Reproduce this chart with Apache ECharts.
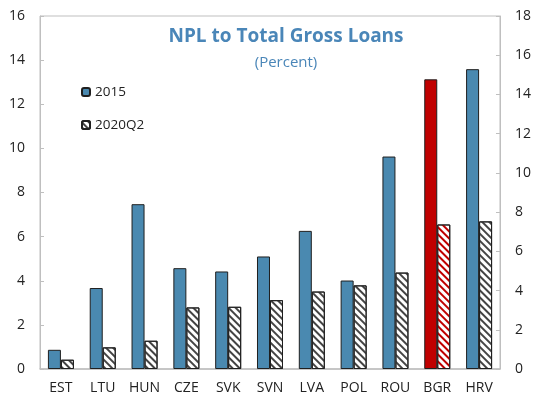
<!DOCTYPE html>
<html>
<head>
<meta charset="utf-8">
<script src="https://cdn.jsdelivr.net/npm/echarts@6/dist/echarts.min.js"></script>
<style>
  html, body { margin: 0; padding: 0; background: #fff; }
  #chart { width: 534px; height: 396px; }
</style>
</head>
<body>
<div id="chart"></div>
<script>
// Non-performing loans as a share of total gross loans, by country
const categories = ['EST', 'LTU', 'HUN', 'CZE', 'SVK', 'SVN', 'LVA', 'POL', 'ROU', 'BGR', 'HRV'];
const npl2015 = [0.87, 3.67, 7.47, 4.57, 4.42, 5.10, 6.26, 4.01, 9.63, 13.13, 13.59];
const npl2020Q2 = [0.42, 0.98, 1.28, 2.79, 2.82, 3.12, 3.51, 3.79, 4.37, 6.55, 6.69];
const seriesNames = ['2015', '2020Q2'];
const highlighted = 'BGR';

const BLUE = '#4a89b0';
const RED = '#c00000';
const EDGE = '#1f1f1f';
const AXIS = '#bfbfbf';
const FONT = 'Open Sans';

function hatch(color) {
  return {
    symbol: 'rect',
    symbolSize: 1,
    dashArrayX: [1, 0],
    dashArrayY: [1.2, 2.8],
    rotation: Math.PI / 4,
    color: color
  };
}

const firstData = npl2015.map((v, i) => categories[i] === highlighted
  ? { value: v, itemStyle: { color: RED } }
  : v);
const secondData = npl2020Q2.map((v, i) => categories[i] === highlighted
  ? { value: v, itemStyle: { decal: hatch(RED) } }
  : v);

const legendText = { fontFamily: FONT, fontSize: 13.5, color: '#222' };

const chart = echarts.init(document.getElementById('chart'), null, { renderer: 'canvas' });
chart.setOption({
  animation: false,
  backgroundColor: '#fff',
  textStyle: { fontFamily: FONT },
  title: [{
    text: 'NPL to Total Gross Loans',
    left: 281, top: 22, textAlign: 'center',
    textStyle: { fontFamily: FONT, fontSize: 19, fontWeight: 'bold', color: '#4a86b8' }
  }, {
    text: '(Percent)',
    left: 281, top: 50, textAlign: 'center',
    textStyle: { fontFamily: FONT, fontSize: 15, fontWeight: 'normal', color: '#4a86b8' }
  }],
  legend: [{
    data: [seriesNames[0]], left: 81, top: 85, padding: 0,
    itemWidth: 8, itemHeight: 8, itemGap: 5, textStyle: legendText
  }, {
    data: [seriesNames[1]], left: 81, top: 118, padding: 0,
    itemWidth: 8, itemHeight: 8, itemGap: 5, textStyle: legendText
  }],
  grid: {
    left: 40, right: 29, top: 16, bottom: 27,
    show: true, borderColor: AXIS, borderWidth: 1, backgroundColor: 'transparent'
  },
  xAxis: {
    type: 'category',
    data: categories,
    axisLine: { lineStyle: { color: AXIS, width: 1.5 } },
    axisTick: { inside: true, length: 4, lineStyle: { color: AXIS } },
    axisLabel: { fontFamily: FONT, fontSize: 14, color: '#222', margin: 12 }
  },
  yAxis: [{
    type: 'value', min: 0, max: 16, interval: 2,
    position: 'left',
    splitLine: { show: false },
    axisLine: { show: true, lineStyle: { color: AXIS } },
    axisTick: { show: true, inside: true, length: 4, lineStyle: { color: AXIS } },
    axisLabel: { fontFamily: FONT, fontSize: 14, color: '#222', margin: 15 }
  }, {
    type: 'value', min: 0, max: 18, interval: 2,
    position: 'right',
    splitLine: { show: false },
    axisLine: { show: true, lineStyle: { color: AXIS } },
    axisTick: { show: true, inside: true, length: 4, lineStyle: { color: AXIS } },
    axisLabel: { fontFamily: FONT, fontSize: 14, color: '#222', margin: 15 }
  }],
  series: [{
    name: seriesNames[0],
    type: 'bar',
    barWidth: 13,
    barGap: '0%',
    itemStyle: { color: BLUE, borderColor: EDGE, borderWidth: 1 },
    data: firstData
  }, {
    name: seriesNames[1],
    type: 'bar',
    barWidth: 13,
    barGap: '0%',
    itemStyle: { color: '#fff', borderColor: EDGE, borderWidth: 1, decal: hatch('#444') },
    data: secondData
  }]
});
</script>
</body>
</html>
